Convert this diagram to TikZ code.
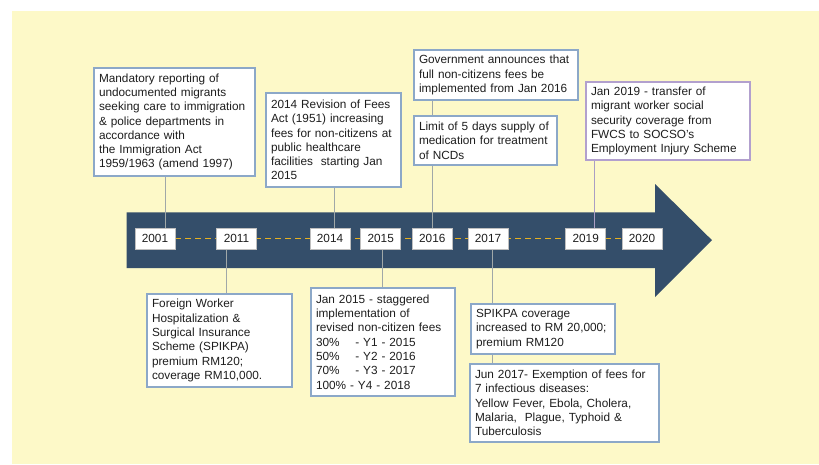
\documentclass[tikz,border=0pt]{standalone}
\usepackage{fontspec}
\setmainfont{Liberation Sans}
\definecolor{bgyellow}{RGB}{253,249,200}
\definecolor{arrowblue}{RGB}{52,78,106}
\definecolor{boxborder}{RGB}{140,168,200}
\definecolor{purpleborder}{RGB}{178,160,206}
\definecolor{connline}{RGB}{160,168,168}
\definecolor{connpurple}{RGB}{170,158,196}
\definecolor{dashgold}{RGB}{230,176,34}
\definecolor{txt}{RGB}{30,30,30}
\pgfdeclarelayer{bg}
\pgfdeclarelayer{lines}
\pgfsetlayers{bg,lines,main}
\tikzset{
  txtbox/.style={draw=boxborder, line width=1.2pt, fill=white, inner xsep=5pt, inner ysep=3pt,
    align=left, text=txt, font=\fontsize{11.8}{14.3}\selectfont},
  yearbox/.style={draw=gray!50, line width=0.5pt, fill=white, minimum width=40pt, minimum height=21pt,
    inner sep=0pt, text=txt, font=\fontsize{11.8}{13}\selectfont},
  conn/.style={draw=connline, line width=0.8pt},
  yeardash/.style={draw=dashgold, line width=1.3pt, dash pattern=on 6pt off 4pt}
}
\newcommand{\tbox}[7]{% name, x1, y1, x2, y2, style, text
  \pgfmathsetmacro{\bw}{#4-#2}%
  \pgfmathsetmacro{\bh}{#5-#3}%
  \pgfmathsetmacro{\tw}{#4-#2-10}%
  \pgfmathsetmacro{\cx}{(#2+#4)/2}%
  \pgfmathsetmacro{\cy}{(#3+#5)/2}%
  \node[txtbox, #6, minimum width=\bw pt, minimum height=\bh pt, text width=\tw pt]
    (#1) at (\cx,\cy) {#7};}
\begin{document}
\begin{tikzpicture}[x=1pt, y=-1pt]
\useasboundingbox (0,0) rectangle (819,464);
\begin{pgfonlayer}{bg}
  \fill[bgyellow] (12,11) rectangle (819,464);
  \fill[arrowblue] (126.7,212.3) -- (655,212.3) -- (655,184) -- (712,240.2) -- (655,297)
     -- (655,268) -- (126.7,268) -- cycle;
\end{pgfonlayer}
% year boxes
\node[yearbox] (y2001) at (155,238.5) {2001};
\node[yearbox] (y2011) at (236.5,238.5) {2011};
\node[yearbox] (y2014) at (330,238.5) {2014};
\node[yearbox] (y2015) at (380.7,238.5) {2015};
\node[yearbox] (y2016) at (432.3,238.5) {2016};
\node[yearbox] (y2017) at (488,238.5) {2017};
\node[yearbox] (y2019) at (585.7,238.5) {2019};
\node[yearbox] (y2020) at (642,238.5) {2020};
% top boxes
\tbox{t2001}{94}{68}{255}{176}{}{Mandatory reporting of\\undocumented migrants\\seeking care to immigration\\\& police departments in\\accordance with\\the Immigration Act\\1959/1963 (amend 1997)}
\tbox{t2014}{266}{93}{401}{187}{}{2014 Revision of Fees\\Act (1951) increasing\\fees for non-citizens at\\public healthcare\\facilities\ \ starting Jan\\2015}
\tbox{tgov}{414}{50}{578}{100}{}{Government announces that\\full non-citizens fees be\\implemented from Jan 2016}
\tbox{tlim}{414}{116}{557}{165}{}{Limit of 5 days supply of\\medication for treatment\\of NCDs}
\tbox{t2019}{586}{82}{750}{160}{draw=purpleborder}{Jan 2019 - transfer of\\migrant worker social\\security coverage from\\FWCS to SOCSO's\\Employment Injury Scheme}
% bottom boxes
\tbox{b2011}{147}{294}{292}{387}{}{Foreign Worker\\Hospitalization \&\\Surgical Insurance\\Scheme (SPIKPA)\\premium RM120;\\coverage RM10,000.}
\tbox{b2015}{311}{288}{455}{396}{}{Jan 2015 - staggered\\implementation of\\revised non-citizen fees\\30\%\ \ \ \ - Y1 - 2015\\50\%\ \ \ \ - Y2 - 2016\\70\%\ \ \ \ - Y3 - 2017\\100\% - Y4 - 2018}
\tbox{b2017}{471}{304}{615}{354}{}{SPIKPA coverage\\increased to RM 20,000;\\premium RM120}
\tbox{b2017j}{470}{364}{659}{442}{}{Jun 2017- Exemption of fees for\\7 infectious diseases:\\Yellow Fever, Ebola, Cholera,\\Malaria,\ \ Plague, Typhoid \&\\Tuberculosis}
% connector x positions
\coordinate (c2001) at (165,0);
\coordinate (c2011) at (226.7,0);
\coordinate (c2014) at (334,0);
\coordinate (c2015) at (382,0);
\coordinate (c2016) at (432.7,0);
\coordinate (c2017) at (492,0);
\coordinate (c2019) at (594,0);
\begin{pgfonlayer}{lines}
  \draw[yeardash] (y2001.east) -- (y2020.west);
  \draw[conn] (t2001.south -| c2001) -- (y2001.north -| c2001);
  \draw[conn] (t2014.south -| c2014) -- (y2014.north -| c2014);
  \draw[conn] (tgov.south -| c2016) -- (y2016.north -| c2016);
  \draw[conn, draw=connpurple] (t2019.south -| c2019) -- (y2019.north -| c2019);
  \draw[conn] (y2011.south -| c2011) -- (b2011.north -| c2011);
  \draw[conn] (y2015.south -| c2015) -- (b2015.north -| c2015);
  \draw[conn] (y2017.south -| c2017) -- (b2017j.north -| c2017);
\end{pgfonlayer}
\end{tikzpicture}
\end{document}
